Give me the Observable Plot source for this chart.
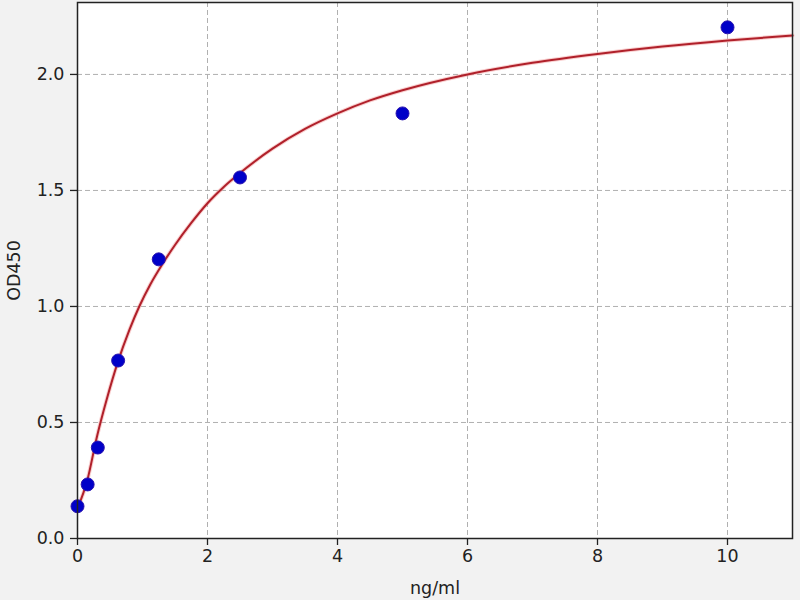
<!DOCTYPE html>
<div id="plot"></div>
<script src="https://cdn.jsdelivr.net/npm/d3@7"></script>
<script src="https://cdn.jsdelivr.net/npm/@observablehq/plot@0.6"></script>
<script>

// standards (ng/ml) and measured OD450
const conc = [0, 0.156, 0.3125, 0.625, 1.25, 2.5, 5, 10];
const od = [0.139, 0.233, 0.392, 0.767, 1.203, 1.556, 1.832, 2.203];

// fitted curve
const curveX = [0, 0.15, 0.3, 0.45, 0.62, 0.8, 0.95, 1.12, 1.3, 1.5, 1.75, 2, 2.25, 2.5, 3, 3.5, 4, 4.5, 5, 6, 7, 8, 9, 10, 11];
const curveY = [0.13, 0.25, 0.44, 0.6, 0.76, 0.9, 1.0, 1.095, 1.18, 1.265, 1.36, 1.445, 1.515, 1.575, 1.68, 1.765, 1.832, 1.888, 1.932, 2.0, 2.05, 2.088, 2.12, 2.146, 2.168];

const xTicks = [0, 2, 4, 6, 8, 10];
const yTicks = [0, 0.5, 1.0, 1.5, 2.0];

const points = conc.map((c, i) => ({c, od: od[i]}));
const curve = curveX.map((c, i) => ({c, od: curveY[i]}));

const grid = {stroke: '#b0b0b0', strokeOpacity: 1, strokeDasharray: '5,3', strokeWidth: 1};

const plot = Plot.plot({
	width: 800,
	height: 600,
	marginLeft: 77,
	marginRight: 8,
	marginTop: 2,
	marginBottom: 62,
	style: {background: '#f2f2f2', fontFamily: 'DejaVu Sans', fontSize: '17.5px', color: '#222'},
	x: {domain: [0, 11]},
	y: {domain: [0, 2.31]},
	marks: [
		Plot.frame({fill: 'white', stroke: null}),
		Plot.gridX(xTicks, grid),
		Plot.gridY(yTicks, grid),
		Plot.axisX(xTicks, {tickSize: 7, tickPadding: 4, stroke: '#222', strokeWidth: 1.3,
			label: 'ng/ml', labelAnchor: 'center', labelArrow: 'none', labelOffset: 55}),
		Plot.axisY(yTicks, {tickSize: 7, tickPadding: 6, tickFormat: d3.format('.1f'), stroke: '#222', strokeWidth: 1.3,
			label: 'OD450', labelAnchor: 'center', labelArrow: 'none', labelOffset: 70}),
		Plot.line(curve, {x: 'c', y: 'od', curve: 'monotone-x', stroke: '#f4a0a0', strokeWidth: 4, strokeOpacity: 0.5}),
		Plot.line(curve, {x: 'c', y: 'od', curve: 'monotone-x', stroke: '#b0202a', strokeWidth: 2}),
		Plot.dot(points, {x: 'c', y: 'od', r: 6.5, fill: '#0000c8', stroke: '#2a14b0', strokeWidth: 1}),
		Plot.frame({stroke: '#222', strokeWidth: 1.5})
	]
});

document.querySelector('#plot').append(plot);

</script>
<style>
html, body {
	margin: 0;
	background: #f2f2f2;
}
</style>
